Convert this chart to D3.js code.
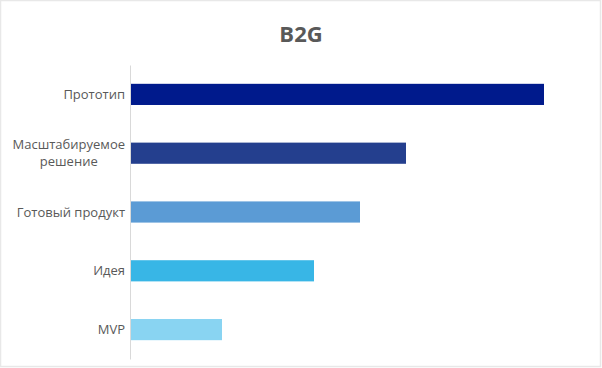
<!DOCTYPE html>
<html>
<head>
<meta charset="utf-8">
<script src="https://cdn.jsdelivr.net/npm/d3@7"></script>
<style>
  body { margin: 0; background: #fff; }
  svg { display: block; font-family: "Open Sans", sans-serif; }
</style>
</head>
<body>
<div id="chart"></div>
<script>
// данные графика
const categories = ['Прототип', 'Масштабируемое решение', 'Готовый продукт', 'Идея', 'MVP'];
const labelLines = [['Прототип'], ['Масштабируемое', 'решение'], ['Готовый продукт'], ['Идея'], ['MVP']];
const values = [9, 6, 5, 4, 2];
const colors = ['#001A8C', '#243F8E', '#5B9BD5', '#38B6E6', '#89D4F2'];
const title = 'B2G';

const width = 602, height = 368;
const margin = { top: 65, right: 12, bottom: 9, left: 130 };

const svg = d3.select('#chart')
  .append('svg')
  .attr('width', width)
  .attr('height', height);

// рамка диаграммы
svg.append('rect')
  .attr('x', 0.5).attr('y', 0.5)
  .attr('width', 600).attr('height', 366)
  .attr('fill', '#fff')
  .attr('stroke', '#e8e8e8')
  .attr('stroke-width', 1.5);

svg.append('text')
  .attr('x', 301)
  .attr('y', 42)
  .attr('text-anchor', 'middle')
  .attr('font-size', '22px')
  .attr('font-weight', 'bold')
  .attr('fill', '#595959')
  .text(title);

const x = d3.scaleLinear()
  .domain([0, 10])
  .range([margin.left, margin.left + 460]);

const y = d3.scaleBand()
  .domain(categories)
  .range([margin.top, height - margin.bottom])
  .paddingInner(0.64)
  .paddingOuter(0.32);

// полосы
svg.selectAll('.bar')
  .data(categories)
  .enter()
  .append('rect')
  .attr('class', 'bar')
  .attr('x', x(0))
  .attr('y', d => y(d))
  .attr('width', (d, i) => x(values[i]) - x(0))
  .attr('height', y.bandwidth())
  .attr('fill', (d, i) => colors[i]);

// ось категорий
const yAxis = svg.append('g')
  .attr('transform', `translate(${margin.left},0)`)
  .call(d3.axisLeft(y).tickSize(0).tickFormat(''));
yAxis.select('.domain').attr('stroke', '#d9d9d9').attr('stroke-width', 1);

// подписи категорий (с переносом строк)
const fontSize = '13px';
const labels = svg.selectAll('.lbl')
  .data(categories)
  .enter()
  .append('text')
  .attr('class', 'lbl')
  .attr('font-size', fontSize)
  .attr('fill', '#595959')
  .attr('text-anchor', 'end');

labels.each(function (d, i) {
  const lines = labelLines[i];
  const cy = y(d) + y.bandwidth() / 2;
  const lh = 17;
  const el = d3.select(this);
  if (lines.length === 1) {
    el.append('tspan')
      .attr('x', 125)
      .attr('y', cy + 4.5)
      .text(lines[0]);
  } else {
    // многострочная подпись центрируется по самой длинной строке
    el.attr('text-anchor', 'middle');
    const tmp = svg.append('text').attr('font-size', fontSize).text(lines[0]);
    const w = tmp.node().getComputedTextLength();
    tmp.remove();
    lines.forEach((line, k) => {
      el.append('tspan')
        .attr('x', 125 - w / 2)
        .attr('y', cy + 4.5 + (k - (lines.length - 1) / 2) * lh)
        .text(line);
    });
  }
});
</script>
</body>
</html>
